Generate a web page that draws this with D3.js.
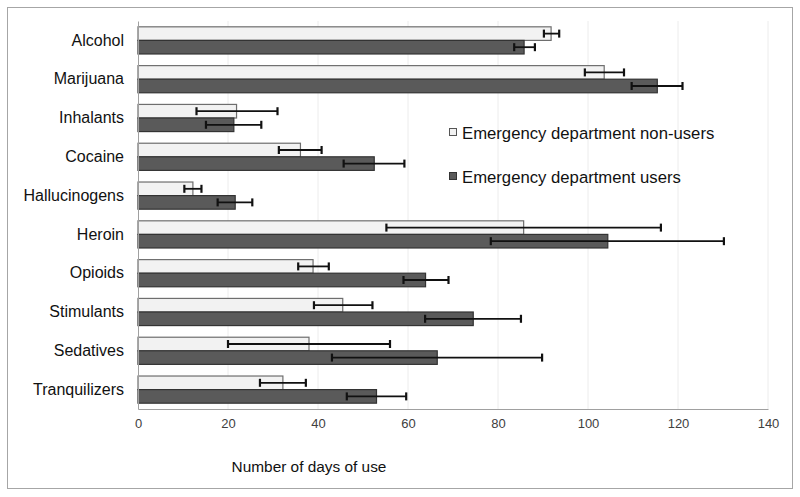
<!DOCTYPE html>
<html><head><meta charset="utf-8">
<script src="https://cdn.jsdelivr.net/npm/d3@7"></script>
<style>body{margin:0;background:#fff}svg{display:block}</style>
</head><body><svg id="c" width="800" height="497"></svg>
<script>
const categories = ["Alcohol","Marijuana","Inhalants","Cocaine","Hallucinogens","Heroin","Opioids","Stimulants","Sedatives","Tranquilizers"];
const nonUsers    = [91.8, 103.6, 21.9, 36.1, 12.2, 85.7, 38.9, 45.5, 38.0, 32.2];
const nonUsersLo  = [90.2,  99.3, 13.0, 31.3, 10.3, 55.2, 35.6, 39.1, 20.0, 27.1];
const nonUsersHi  = [93.6, 108.0, 31.0, 40.8, 14.1,116.2, 42.4, 52.1, 56.0, 37.3];
const users       = [85.8, 115.4, 21.3, 52.5, 21.6,104.4, 63.9, 74.5, 66.5, 53.0];
const usersLo     = [83.6, 109.7, 15.1, 45.7, 17.7, 78.4, 59.0, 63.8, 43.1, 46.4];
const usersHi     = [88.2, 121.0, 27.4, 59.2, 25.4,130.2, 69.0, 85.1, 89.8, 59.6];
const xTicks = [0,20,40,60,80,100,120,140];
const seriesNames = ["Emergency department non-users","Emergency department users"];

(function(){
const svg = d3.select("#c");
const FONT = "'Liberation Sans', Arial, sans-serif";
svg.append("rect").attr("x",7.5).attr("y",7.5).attr("width",785).attr("height",481)
  .attr("fill","#fff").attr("stroke","#a6a6a6");

const pL=138, pR=768, pT=21, pB=409;
const x = d3.scaleLinear().domain([0,140]).range([pL,pR]);
const y = d3.scaleBand().domain(categories).range([pT,pB]).paddingInner(0.3).paddingOuter(0.15);
const sub = d3.scaleBand().domain(["n","u"]).range([0,y.bandwidth()]);

svg.append("g").selectAll("line").data(xTicks.slice(1)).join("line")
  .attr("x1",d=>x(d)).attr("x2",d=>x(d)).attr("y1",pT).attr("y2",pB)
  .attr("stroke","#ececec").attr("stroke-width",1);

const series = [
  {key:"n", vals:nonUsers, lo:nonUsersLo, hi:nonUsersHi, fill:"#f2f2f2", stroke:"#6e6e6e"},
  {key:"u", vals:users, lo:usersLo, hi:usersHi, fill:"#5a5a5a", stroke:"#333"}
];
series.forEach(s=>{
  svg.append("g").selectAll("rect").data(categories).join("rect")
    .attr("x",x(0)).attr("y",(d)=>y(d)+sub(s.key))
    .attr("width",(d,i)=>x(s.vals[i])-x(0)).attr("height",sub.bandwidth())
    .attr("fill",s.fill).attr("stroke",s.stroke).attr("stroke-width",1.2);
});
series.forEach(s=>{
  const g = svg.append("g").attr("stroke","#111").attr("stroke-width",1.8);
  categories.forEach((c,i)=>{
    const cy = y(c)+sub(s.key)+sub.bandwidth()/2;
    g.append("line").attr("x1",x(s.lo[i])).attr("x2",x(s.hi[i])).attr("y1",cy).attr("y2",cy);
    [s.lo[i],s.hi[i]].forEach(v=>g.append("line").attr("x1",x(v)).attr("x2",x(v)).attr("y1",cy-4).attr("y2",cy+4).attr("stroke-width",2.2));
  });
});

const xa = svg.append("g").attr("transform",`translate(0,${pB})`)
  .call(d3.axisBottom(x).tickValues(xTicks).tickSize(0).tickPadding(10));
xa.select(".domain").attr("stroke","#a0a0a0");
xa.selectAll("text").attr("font-family","'Liberation Sans Narrow','Arial Narrow','Liberation Sans',sans-serif")
  .attr("font-size",13).attr("fill","#404040");
const ya = svg.append("g").attr("transform",`translate(${pL},0)`)
  .call(d3.axisLeft(y).tickSize(0).tickPadding(14));
ya.select(".domain").attr("stroke","#a0a0a0");
ya.selectAll("text").attr("font-family",FONT).attr("font-size",16).attr("fill","#111");

svg.append("text").attr("x",309).attr("y",472).attr("text-anchor","middle")
  .attr("font-family",FONT).attr("font-size",15.4).attr("fill","#111")
  .text("Number of days of use");

const leg = svg.append("g");
[{y:133,fill:"#f2f2f2",stroke:"#555"},{y:177,fill:"#5a5a5a",stroke:"#333"}].forEach((l,i)=>{
  leg.append("rect").attr("x",449.5).attr("y",l.y-4.5).attr("width",7).attr("height",7).attr("fill",l.fill).attr("stroke",l.stroke);
  leg.append("text").attr("x",462).attr("y",l.y+6).attr("font-family",FONT)
    .attr("font-size",16.7).attr("fill","#111").text(seriesNames[i]);
});
})();
</script></body></html>
